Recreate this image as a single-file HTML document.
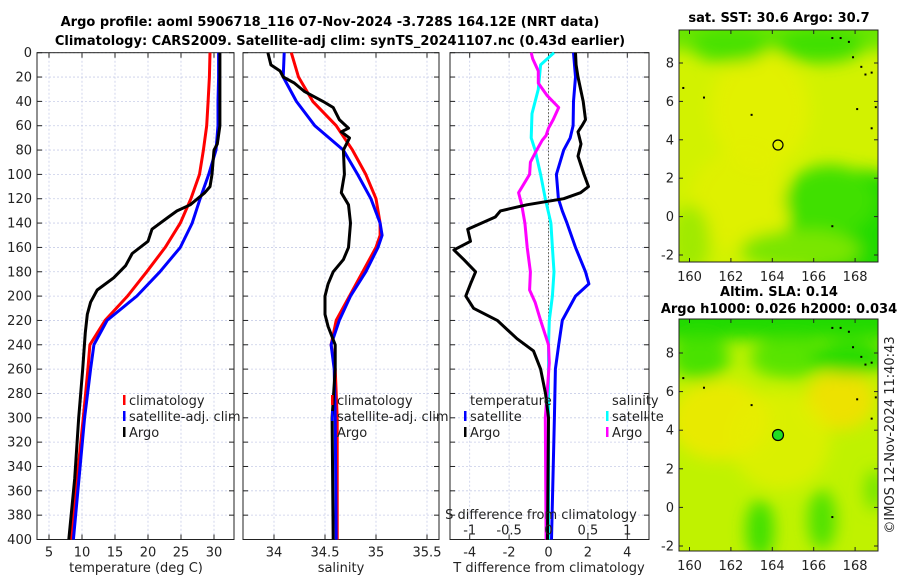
<!DOCTYPE html>
<html><head><meta charset="utf-8"><style>
body{margin:0;background:#fff;}
svg{display:block;font-family:"DejaVu Sans","Liberation Sans",sans-serif;}
</style></head><body>
<svg id="c" width="900" height="580" viewBox="0 0 900 580">
<defs>
<filter id="bl" x="-50%" y="-50%" width="200%" height="200%"><feGaussianBlur stdDeviation="8"/></filter>
<clipPath id="m1"><rect x="679" y="30" width="199" height="232"/></clipPath>
<clipPath id="m2"><rect x="679" y="319" width="199" height="232"/></clipPath>
</defs>
<text x="330" y="26" text-anchor="middle" font-size="13" font-weight="bold">Argo profile: aoml 5906718_116 07-Nov-2024 -3.728S 164.12E (NRT data)</text>
<text x="340" y="45" text-anchor="middle" font-size="13" font-weight="bold">Climatology: CARS2009. Satellite-adj clim: synTS_20241107.nc (0.43d earlier)</text>
<g id="plots"></g>
<g>
<text x="779" y="22" text-anchor="middle" font-size="13" font-weight="bold">sat. SST: 30.6 Argo: 30.7</text>
<g clip-path="url(#m1)">
<rect x="679" y="30" width="199" height="232" fill="#d2f200"/>
<g filter="url(#bl)">
<ellipse cx="760" cy="110" rx="50" ry="60" fill="#e6f000" opacity="0.8"/>
<ellipse cx="740" cy="200" rx="50" ry="50" fill="#e2f000" opacity="0.8"/>
<rect x="660" y="10" width="240" height="40" fill="#6ae600"/>
<ellipse cx="730" cy="45" rx="40" ry="18" fill="#48e200"/>
<ellipse cx="820" cy="45" rx="45" ry="18" fill="#40e000"/>
<ellipse cx="860" cy="230" rx="70" ry="60" fill="#20da00"/>
<ellipse cx="830" cy="200" rx="45" ry="35" fill="#40e000"/>
<ellipse cx="800" cy="250" rx="60" ry="20" fill="#7ae600"/>
<ellipse cx="690" cy="240" rx="20" ry="35" fill="#a0ea00"/>
</g>
</g>
<rect x="679" y="30" width="199" height="232" fill="none" stroke="#222" stroke-width="1"/>
<circle cx="778" cy="145" r="5" fill="none" stroke="#000" stroke-width="1.2"/>
<g id="t1"></g>
</g>
<g>
<text x="779" y="296" text-anchor="middle" font-size="13" font-weight="bold">Altim. SLA: 0.14</text>
<text x="779" y="313" text-anchor="middle" font-size="13" font-weight="bold">Argo h1000: 0.026 h2000: 0.034</text>
<g clip-path="url(#m2)">
<rect x="679" y="319" width="199" height="232" fill="#c0f200"/>
<g filter="url(#bl)">
<ellipse cx="720" cy="420" rx="50" ry="40" fill="#f2e800" opacity="0.8"/>
<ellipse cx="840" cy="400" rx="35" ry="30" fill="#f2e000" opacity="0.9"/>
<ellipse cx="780" cy="440" rx="50" ry="50" fill="#e6f000" opacity="0.7"/>
<rect x="660" y="300" width="240" height="40" fill="#20da00"/>
<ellipse cx="700" cy="358" rx="30" ry="22" fill="#48e200"/>
<ellipse cx="790" cy="358" rx="40" ry="20" fill="#58e400"/>
<ellipse cx="850" cy="358" rx="40" ry="16" fill="#28dc00"/>
<ellipse cx="760" cy="530" rx="14" ry="30" fill="#40e000"/>
<ellipse cx="822" cy="520" rx="14" ry="30" fill="#50e200"/>
<ellipse cx="875" cy="490" rx="10" ry="20" fill="#70e600"/>
</g>
</g>
<rect x="679" y="319" width="199" height="232" fill="none" stroke="#222" stroke-width="1"/>
<circle cx="778" cy="435" r="5.5" fill="#22dd22" stroke="#000" stroke-width="1.2"/>
<g id="t2"></g>
</g>
<text transform="translate(894,435) rotate(-90)" text-anchor="middle" font-size="13" fill="#222">©IMOS 12-Nov-2024 11:40:43</text>
</svg>
<script>
const depth = [0,20,40,60,80,100,120,140,160,180,200,220,240,260,300,400];
const tempClim = [29.4,29.3,29.1,28.9,28.4,27.8,26.5,24.9,22.6,19.8,16.9,13.5,11.2,10.9,10.2,8.3];
const tempSat = [30.7,30.7,30.6,30.6,30.3,29.2,27.9,26.7,24.9,21.8,18.3,13.8,11.8,11.3,10.4,8.7];
const argoDepth = [0,20,40,60,75,80,100,110,115,125,130,135,145,155,165,175,185,195,205,215,230,245,260,300,350,400];
const tempArgo = [30.9,30.9,30.9,30.9,30.5,30.0,29.7,29.4,28.6,26.4,24.4,23.1,20.6,20.0,17.6,16.6,14.8,12.3,11.3,10.8,10.5,10.3,10.1,9.5,8.9,8.0];
const salDepth = [0,20,40,60,80,100,120,140,150,160,180,200,220,240,260,300,400];
const salClim = [34.17,34.24,34.38,34.61,34.77,34.9,35.0,35.04,35.04,35.0,34.87,34.74,34.61,34.56,34.6,34.62,34.62];
const salSat = [34.1,34.09,34.22,34.4,34.68,34.82,34.95,35.04,35.06,35.02,34.9,34.75,34.64,34.56,34.59,34.6,34.61];
const salArgoDepth = [0,10,15,20,25,32,40,45,55,62,65,70,80,100,115,125,140,160,170,180,190,200,215,225,240,260,300,400];
const salArgo = [33.94,33.97,34.06,34.09,34.2,34.3,34.48,34.58,34.64,34.73,34.66,34.74,34.68,34.69,34.66,34.73,34.75,34.73,34.68,34.58,34.53,34.5,34.5,34.53,34.6,34.6,34.57,34.58];
const dTSatDepth = [0,20,40,60,70,80,100,120,130,140,160,180,190,200,220,240,260,300,400];
const dTSat = [1.27,1.37,1.27,1.25,1.1,0.77,0.4,0.5,0.7,0.94,1.37,1.88,2.05,1.37,0.7,0.52,0.35,0.3,0.15];
const dTArgoDepth = [0,10,20,40,55,60,65,75,85,100,110,115,120,125,130,135,145,155,162,170,180,190,200,210,220,235,245,260,280,300,400];
const dTArgo = [1.37,1.4,1.5,1.76,1.88,1.7,1.5,1.65,1.5,1.8,2.03,1.63,0.77,-1.1,-2.44,-2.7,-4.1,-3.96,-4.8,-4.3,-3.7,-3.96,-4.2,-3.8,-2.6,-1.6,-0.76,-0.4,-0.15,0,-0.05];
const dSSatDepth = [0,10,30,50,70,80,100,120,140,160,180,200,220,240,300,400];
const dSSat = [0.07,-0.1,-0.13,-0.21,-0.22,-0.17,-0.1,-0.04,0.03,0.05,0.07,0.05,0.01,0,0,0];
const dSArgoDepth = [0,5,15,25,35,45,55,62,68,72,80,90,100,115,125,140,160,180,195,205,220,240,255,300,400];
const dSArgo = [-0.22,-0.2,-0.13,-0.13,-0.02,0.13,0.06,0,-0.03,-0.08,-0.15,-0.23,-0.24,-0.38,-0.34,-0.3,-0.27,-0.23,-0.24,-0.17,-0.1,0,0.01,-0.04,-0.03];
const tTicks = [5,10,15,20,25,30];
const sTicks = [34,34.5,35,35.5];
const dTTicks = [-4,-2,0,2,4];
const dSTicks = [-1,-0.5,0,0.5,1];
const depthTicks = [0,20,40,60,80,100,120,140,160,180,200,220,240,260,280,300,320,340,360,380,400];
const lonTicks = [160,162,164,166,168];
const latTicks = [-2,0,2,4,6,8];
const islandLon = [166.9,167.3,167.7,167.9,168.3,168.5,168.8,159.7,160.7,163.0,168.1,169.0,168.8,166.9];
const islandLat = [9.3,9.3,9.1,8.3,7.8,7.4,7.5,6.7,6.2,5.3,5.6,5.7,4.6,-0.5];

const NS='http://www.w3.org/2000/svg';
const Y0=52.7,Y1=539.5;
const yD=d=>Y0+d*(Y1-Y0)/400;
const xT=t=>49+(t-5)*6.6;
const xS=s=>274+(s-34)*102;
const xDT=t=>548.5+t*19.7;
const xDS=s=>548.5+s*78.8;
function el(tag,attrs,parent,name,inter){const e=document.createElementNS(NS,tag);for(const k in attrs)e.setAttribute(k,attrs[k]);


parent.appendChild(e);return e;}
function txt(x,y,s,anchor,size,parent,name){const t=el('text',{x:x,y:y,'text-anchor':anchor,'font-size':size,fill:'#222'},parent,name,false);t.textContent=s;return t;}
const P=document.getElementById('plots');
function panel(x0,x1,name,xticks,xf,labelFn,showY){
  const g=el('g',{},P,name,false);
  xticks.forEach(t=>{const x=xf(t);el('line',{x1:x,x2:x,y1:Y0,y2:Y1,stroke:'#c8cde8','stroke-width':0.8,'stroke-dasharray':'2,2'},g,'grid-x',false);
    el('line',{x1:x,x2:x,y1:Y1,y2:Y1-5,stroke:'#222'},g,'x-tick',false);
    el('line',{x1:x,x2:x,y1:Y0,y2:Y0+5,stroke:'#222'},g,'x-tick',false);
    if(labelFn)txt(x,Y1+17,labelFn(t),'middle',13,g,'x-tick-label');});
  depthTicks.forEach(d=>{const y=yD(d);el('line',{x1:x0,x2:x1,y1:y,y2:y,stroke:'#c8cde8','stroke-width':0.8,'stroke-dasharray':'2,2'},g,'grid-y',false);
    el('line',{x1:x0,x2:x0+5,y1:y,y2:y,stroke:'#222'},g,'y-tick',false);
    el('line',{x1:x1,x2:x1-5,y1:y,y2:y,stroke:'#222'},g,'y-tick',false);
    if(showY)txt(x0-5,y+4.5,String(d),'end',13,g,'y-tick-label');});
  el('rect',{x:x0,y:Y0,width:x1-x0,height:Y1-Y0,fill:'none',stroke:'#222','stroke-width':1},g,'plot-frame',false);
  return g;
}
function line(g,xs,ds,xf,color,name,w,dash){const pts=xs.map((v,i)=>xf(v).toFixed(1)+','+yD(ds[i]).toFixed(1)).join(' ');
  const a={points:pts,fill:'none',stroke:color,'stroke-width':w||3,'stroke-linejoin':'round'};if(dash)a['stroke-dasharray']=dash;
  return el('polyline',a,g,name,false);}
function legend(g,x,y,items){items.forEach((it,i)=>{const yy=y+i*16;
  el('rect',{x:x,y:yy-6,width:2.5,height:10,fill:it[1]},g,'legend-marker',false);
  txt(x+6,yy+4,it[0],'start',13,g,'legend-entry');});}

const g1=panel(37,234,'temperature-panel',tTicks,xT,t=>String(t),true);
line(g1,tempClim,depth,xT,'#ff0000','temp-climatology-line');
line(g1,tempSat,depth,xT,'#0000ff','temp-satellite-line');
line(g1,tempArgo,argoDepth,xT,'#000000','temp-argo-line');
txt(136,572,'temperature (deg C)','middle',13,g1,'x-axis-title');
legend(g1,123,401,[['climatology','#ff0000'],['satellite-adj. clim','#0000ff'],['Argo','#000']]);

const g2=panel(243,439,'salinity-panel',sTicks,xS,t=>String(t),false);
line(g2,salClim,salDepth,xS,'#ff0000','sal-climatology-line');
line(g2,salSat,salDepth,xS,'#0000ff','sal-satellite-line');
line(g2,salArgo,salArgoDepth,xS,'#000000','sal-argo-line');
txt(341,572,'salinity','middle',13,g2,'x-axis-title');
legend(g2,331,401,[['climatology','#ff0000'],['satellite-adj. clim','#0000ff'],['Argo','#000']]);

const g3=panel(450,649,'difference-panel',dTTicks,xDT,t=>String(t),false);
el('line',{x1:xDT(0),x2:xDT(0),y1:Y0,y2:Y1,stroke:'#554',"stroke-width":1,'stroke-dasharray':'1.5,2'},g3,'zero-line',false);
line(g3,dSSat,dSSatDepth,xDS,'#00ffff','sdiff-satellite-line');
line(g3,dSArgo,dSArgoDepth,xDS,'#ff00ff','sdiff-argo-line');
line(g3,dTSat,dTSatDepth,xDT,'#0000ff','tdiff-satellite-line');
line(g3,dTArgo,dTArgoDepth,xDT,'#000000','tdiff-argo-line');
dSTicks.forEach(s=>txt(xDS(s),Y1-5,String(s),'middle',13,g3,'s-tick-label'));
txt(541,519,'S difference from climatology','middle',13,g3,'s-axis-title');
txt(549,572,'T difference from climatology','middle',13,g3,'t-axis-title');
txt(470,405,'temperature','start',13,g3,'legend-title-temperature');
txt(612,405,'salinity','start',13,g3,'legend-title-salinity');
legend(g3,464,417,[['satellite','#0000ff'],['Argo','#000']]);
legend(g3,606,417,[['satellite','#00ffff'],['Argo','#ff00ff']]);

function mapAxes(id,top,y8,ym2){const g=document.getElementById(id);
  const lx=l=>689.5+(l-160)*20.7; const ly=l=>y8+(8-l)*(ym2-y8)/10;
  lonTicks.forEach(l=>{const x=lx(l);el('line',{x1:x,x2:x,y1:top+232,y2:top+228,stroke:'#222'},g,'lon-tick',false);
    el('line',{x1:x,x2:x,y1:top,y2:top+4,stroke:'#222'},g,'lon-tick',false);
    txt(x,top+251,String(l),'middle',13,g,'lon-tick-label');});
  latTicks.forEach(l=>{const y=ly(l);el('line',{x1:679,x2:683,y1:y,y2:y,stroke:'#222'},g,'lat-tick',false);
    el('line',{x1:878,x2:874,y1:y,y2:y,stroke:'#222'},g,'lat-tick',false);
    txt(674,y+4.5,String(l),'end',13,g,'lat-tick-label');});
  islandLon.forEach((lo,i)=>{
    el('rect',{x:lx(lo)-1,y:ly(islandLat[i])-1,width:2,height:2,fill:'#000'},g,'island',false);});
}
mapAxes('t1',30,63,255);
mapAxes('t2',319,353,546);
</script>
</body></html>
